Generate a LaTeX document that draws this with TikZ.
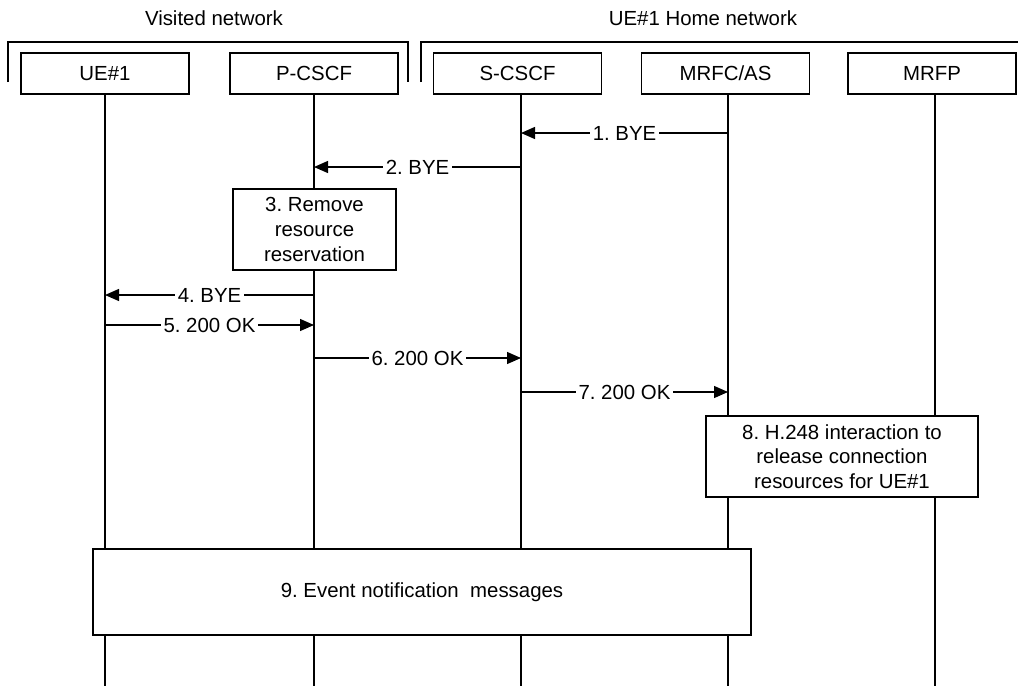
\documentclass[tikz,border=0pt]{standalone}
\usepackage{fontspec}
\setmainfont{Liberation Sans}
\usepackage{tikz}
\usetikzlibrary{arrows.meta,positioning,calc}
\frenchspacing

\begin{document}
\begin{tikzpicture}[x=0.75pt,y=-0.75pt,line width=1pt,
  font=\fontsize{15.3}{18.4}\selectfont,
  entity/.style={draw, fill=white, minimum width=126pt, minimum height=30.75pt, inner sep=0pt},
  actbox/.style={draw, fill=white, align=center, inner sep=0pt},
  msg/.style={-{Triangle[length=10.5pt,width=9pt]}},
  lbl/.style={midway, fill=white, inner sep=2pt}]
\useasboundingbox (0,0) rectangle (1018,686);
% network groups
\node (visited) at (214,18) {Visited network};
\node (home) at (703,18) {UE\#1 Home network};
\draw (8,82) -- (8,42) -- (408,42) -- (408,82);
\draw (421,82) -- (421,42) -- (1018,42);
% entities and lifelines
\foreach \n/\b/\x/\t in {ue/105/105/UE\#1, pcscf/314/314/P-CSCF, scscf/517.5/521/S-CSCF, mrfc/725.5/728/{MRFC/AS}, mrfp/932/935/MRFP} {
  \node[entity] (\n) at (\b,73.5) {\t};
  \coordinate (\n-top) at (\x,94);
  \coordinate (\n-end) at (\x,686);
  \draw (\n-top) -- (\n-end);
}
% messages
\draw[msg] (mrfc-top |- 0,133) -- (scscf-top |- 0,133) node[lbl] {1. BYE};
\draw[msg] (scscf-top |- 0,167) -- (pcscf-top |- 0,167) node[lbl] {2. BYE};
\node[actbox, minimum width=122.25pt, minimum height=60.75pt] (remove) at (314.5,229.5) {3. Remove\\resource\\reservation};
\draw[msg] (pcscf-top |- 0,295) -- (ue-top |- 0,295) node[lbl] {4. BYE};
\draw[msg] (ue-top |- 0,325) -- (pcscf-top |- 0,325) node[lbl] {5. 200 OK};
\draw[msg] (pcscf-top |- 0,358) -- (scscf-top |- 0,358) node[lbl] {6. 200 OK};
\draw[msg] (scscf-top |- 0,392) -- (mrfc-top |- 0,392) node[lbl] {7. 200 OK};
\node[actbox, minimum width=204pt, minimum height=60.75pt] (h248) at (842,456.5) {8. H.248 interaction to\\release connection\\resources for UE\#1};
\node[actbox, minimum width=493.5pt, minimum height=64.5pt] (notify) at (422,592) {9. Event notification\ \ messages};
\end{tikzpicture}
\end{document}
